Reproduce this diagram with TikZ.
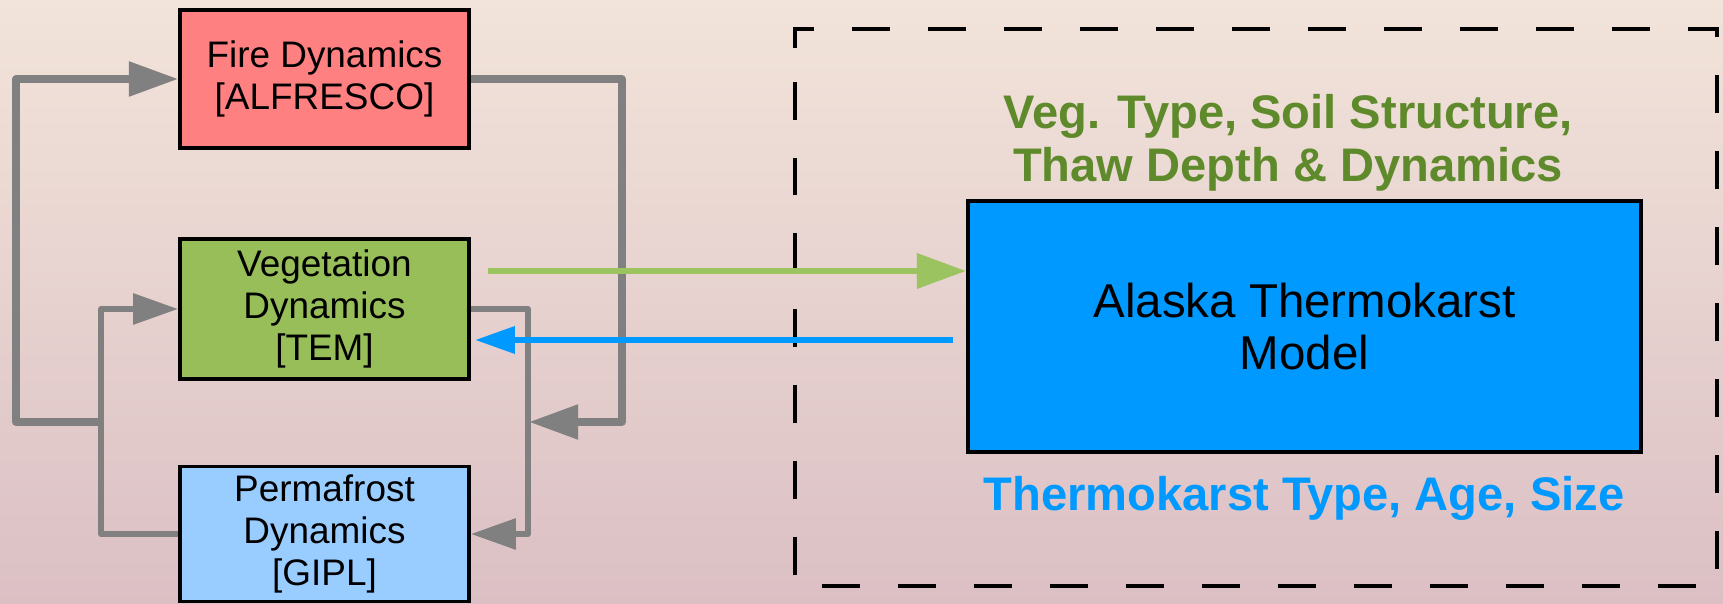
\documentclass[tikz,border=0pt]{standalone}
\usepackage{fontspec}
\setmainfont{Liberation Sans}
\usetikzlibrary{arrows.meta,positioning,calc}

\definecolor{firered}{RGB}{255,128,128}
\definecolor{veggreen}{RGB}{151,190,89}
\definecolor{permblue}{RGB}{153,204,255}
\definecolor{atmblue}{RGB}{0,153,255}
\definecolor{labelgreen}{RGB}{95,138,43}
\definecolor{arrowgreen}{RGB}{155,195,95}
\definecolor{linkgray}{RGB}{128,128,128}
\definecolor{bgtop}{RGB}{242,228,218}
\definecolor{bgmid}{RGB}{231,201,188}
\definecolor{bgbot}{RGB}{219,191,196}

\tikzset{
  modelbox/.style={draw=black, line width=1pt, minimum width=2.89cm, minimum height=1.38cm,
    align=center, inner sep=0pt, font=\fontsize{10.5}{12}\selectfont},
  linkthick/.style={draw=linkgray, line width=2.1pt, line join=round,
    -{Triangle[length=14pt,width=9.5pt]}},
  linkthin/.style={draw=linkgray, line width=1.75pt, line join=round,
    -{Triangle[length=12.8pt,width=8.5pt]}},
  biglabel/.style={font=\fontsize{13.4}{15}\selectfont\bfseries, align=center},
}

\begin{document}
\begin{tikzpicture}[x=0.01cm, y=-0.01cm]
    \useasboundingbox (0,0) rectangle (1723,604);
    \shade[top color=bgtop, middle color=bgmid, bottom color=bgbot] (0,0) rectangle (1723,604);

    % Dashed frame
    \draw[line width=0.9pt, dash pattern=on 10.8pt off 10.8pt]
        (795,48) -- (795,29) -- (1717,29) -- (1717,586) -- (795,586) -- cycle;

    % Coupled models
    \node[modelbox, fill=firered] (fire) at (324.5,79) {Fire Dynamics\\{[ALFRESCO]}};
    \node[modelbox, fill=veggreen, minimum height=1.4cm] (veg) at (324.5,309) {Vegetation\\Dynamics\\{[TEM]}};
    \node[modelbox, fill=permblue, minimum height=1.35cm] (perm) at (324.5,534) {Permafrost\\Dynamics\\{[GIPL]}};

    % Feedback loops
    \draw[linkthin] (perm.west) -- ++(-77,0) |- (veg.west);
    \coordinate (jleft) at (103,422);
    \draw[linkthick] (jleft) -- ++(-87,0) |- (fire.west);
    \coordinate (jright) at (529,422);
    \draw[linkthick] (fire.east) -- ++(151,0) |- (jright);
    \draw[linkthin] (veg.east) -- ++(57,0) |- (perm.east);

    % Thermokarst model
    \node[draw=black, line width=1pt, fill=atmblue, minimum width=6.73cm, minimum height=2.51cm,
        align=center, font=\fontsize{13.5}{15}\selectfont] (atm) at (1304.5,326.5) {Alaska Thermokarst\\Model};
    \node[biglabel, text=labelgreen] (inlabel) at (1288,143) {Veg. Type, Soil Structure,\\Thaw Depth \& Dynamics};
    \node[biglabel, text=atmblue, anchor=base] (outlabel) at (1304,511) {Thermokarst Type, Age, Size};

    % Exchange
    \coordinate (gstart) at (488,271);
    \draw[arrowgreen, line width=1.9pt, -{Triangle[length=14pt,width=9.7pt]}] (gstart) -- (gstart -| atm.west);
    \coordinate (bstart) at (953,340);
    \draw[atmblue, line width=1.9pt, -{Triangle[length=11.4pt,width=7.4pt]}] (bstart) -- ($(bstart -| veg.east)+(4,0)$);
\end{tikzpicture}
\end{document}
